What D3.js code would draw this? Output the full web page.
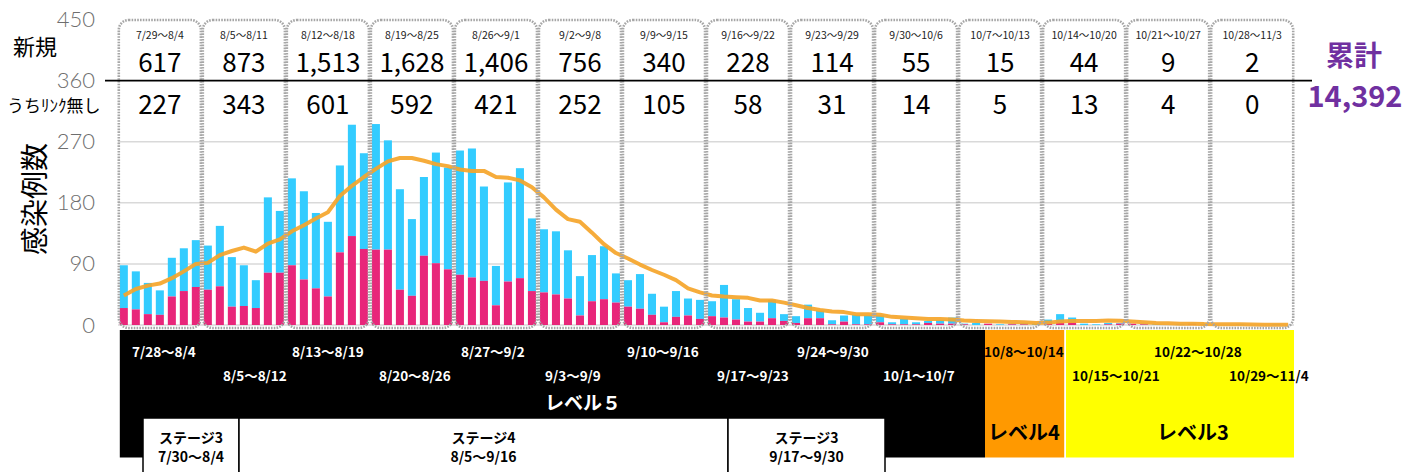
<!DOCTYPE html>
<html><head><meta charset="utf-8">
<script src="https://cdn.jsdelivr.net/npm/d3@7"></script>
<style>
html,body{margin:0;padding:0;background:#fff;}
svg{display:block;font-family:"Noto Sans CJK JP","Noto Sans",sans-serif;}
</style></head>
<body><svg id="c" width="1406" height="472"></svg>
<script>
// ---------- DATA ----------
const startDate = "2020-07-29";
const dayCount = 98;
// daily new cases (total)
const dailyNew = [
  88,79,62,51,99,113,125,
  117,146,100,88,66,188,168,
  216,197,165,152,235,295,253,
  296,272,200,156,218,254,232,
  257,260,204,87,210,231,157,
  141,138,110,72,103,116,76,
  66,75,46,27,50,39,37,
  35,59,38,25,18,37,16,
  13,30,21,7,14,15,14,
  14,4,9,4,6,7,11,
  2,3,2,1,2,3,2,
  8,16,11,2,1,3,3,
  2,2,1,0,1,2,1,
  0,0,1,0,0,1,0
];
// daily cases without known link
const dailyUnlinked = [
  25,23,16,15,42,50,56,
  52,57,27,28,25,77,77,
  88,67,54,42,107,131,112,
  111,111,52,43,102,91,82,
  74,70,65,29,64,69,50,
  48,45,39,14,35,38,33,
  27,24,15,4,12,14,9,
  13,11,8,5,5,10,6,
  3,10,10,1,5,1,1,
  4,1,1,1,3,2,2,
  1,0,2,0,1,1,0,
  2,4,4,0,0,1,2,
  2,1,0,0,0,1,0,
  0,0,0,0,0,0,0
];
// 7-day average line
const weeklyAvg = [
  43.5,53,58,61,69,79,90,
  91.5,103,109,114,108,120,126,
  138,147,157,166,190,205,218,
  230,241,246,246,242,237,234,
  229,227,227,218,217,213,203,
  188,170,156,152,136,119,106,
  98,89,81,74,66,54,48,
  43.5,42,41,40,36,36,33,
  29,25,22,20,19,16,16,
  15,12,11,10,9,9,8,
  6.5,6,5.5,5,4.5,4,3,
  3.5,5,6,6,6,6.5,6.3,
  5,4,3,2.5,2,2,1.3,
  1.2,1,1,0.8,0.5,0.4,0.3
];
const weekLabels = ["7/29～8/4","8/5～8/11","8/12～8/18","8/19～8/25","8/26～9/1","9/2～9/8","9/9～9/15","9/16～9/22","9/23～9/29","9/30～10/6","10/7～10/13","10/14～10/20","10/21～10/27","10/28～11/3"];
const weekNew = ["617","873","1,513","1,628","1,406","756","340","228","114","55","15","44","9","2"];
const weekUnlinked = ["227","343","601","592","421","252","105","58","31","14","5","13","4","0"];
const yTicks = [0,90,180,270,360,450];
const cumulativeLabel = "累計";
const cumulativeValue = "14,392";
const levelPeriodLabels = ["7/28～8/4","8/5～8/12","8/13～8/19","8/20～8/26","8/27～9/2","9/3～9/9","9/10～9/16","9/17～9/23","9/24～9/30","10/1～10/7","10/8～10/14","10/15～10/21","10/22～10/28","10/29～11/4"];
const levelNames = ["レベル５","レベル4","レベル3"];
const stageNames = ["ステージ3","ステージ4","ステージ3"];
const stageDates = ["7/30～8/4","8/5～9/16","9/17～9/30"];

// ---------- LAYOUT ----------
const svg = d3.select("#c");
const X0 = 118, X1 = 1294, Y0 = 325, Ytop = 19.5;
const days = d3.timeDay.range(new Date(startDate+"T00:00:00"), d3.timeDay.offset(new Date(startDate+"T00:00:00"), dayCount));
const idx = d3.range(dayCount);
const x = d3.scaleBand().domain(idx).range([X0, X1]).paddingInner(0.33).paddingOuter(0.15);
const y = d3.scaleLinear().domain([0,450]).range([Y0, Ytop]);
const step = (X1 - X0) / dayCount;
const xf = d => X0 + step * d; // fractional day position

// gridlines
svg.append("g").selectAll("line").data([0,90,180,270]).join("line")
  .attr("x1", X0).attr("x2", X1)
  .attr("y1", d => y(d)).attr("y2", d => y(d))
  .attr("stroke", "#d9d9d9").attr("stroke-width", 1.5);

// y axis labels
const yAxis = d3.axisLeft(y).tickValues(yTicks).tickSize(0).tickPadding(23);
const ga = svg.append("g").attr("transform", `translate(${X0},0)`).call(yAxis);
ga.select(".domain").remove();
ga.selectAll("text").attr("font-size", 22).attr("fill", "#6e6e6e")
  .attr("font-family", "Lato, 'Noto Sans', sans-serif").attr("font-weight", 300);

// bars (stacked)
const bars = svg.append("g");
bars.selectAll("rect.l").data(idx).join("rect").attr("class","l")
  .attr("x", i => x(i)).attr("width", x.bandwidth())
  .attr("y", i => y(dailyNew[i])).attr("height", i => y(dailyUnlinked[i]) - y(dailyNew[i]))
  .attr("fill", "#33ccff");
bars.selectAll("rect.u").data(idx).join("rect").attr("class","u")
  .attr("x", i => x(i)).attr("width", x.bandwidth())
  .attr("y", i => y(dailyUnlinked[i])).attr("height", i => Y0 - y(dailyUnlinked[i]))
  .attr("fill", "#e8267a");

// 7-day average line
const line = d3.line().x((d,i) => x(i) + x.bandwidth()/2).y(d => y(d)).curve(d3.curveLinear);
svg.append("path").datum(weeklyAvg).attr("d", line)
  .attr("fill", "none").attr("stroke", "#f5a52a").attr("stroke-width", 4)
  .attr("stroke-linejoin", "round").attr("opacity", 0.92);

// level bands
const bandTop = 330, bandBot = 457.5;
const bandG = svg.append("g");
bandG.append("rect").attr("x", xf(0.15)).attr("y", bandTop).attr("width", xf(72.25)-xf(0.15)).attr("height", bandBot-bandTop).attr("fill", "#000");
bandG.append("rect").attr("x", xf(72.25)).attr("y", bandTop).attr("width", xf(78.85)-xf(72.25)).attr("height", bandBot-bandTop).attr("fill", "#ff9900");
bandG.append("rect").attr("x", xf(79.0)).attr("y", bandTop).attr("width", xf(98)-xf(79.0)).attr("height", bandBot-bandTop).attr("fill", "#ffff00");

// weekly dotted boxes
const boxG = svg.append("g");
weekLabels.forEach((lab, w) => {
  const left = x(7*w) - 1, right = x(7*w+6) + x.bandwidth() + 1;
  boxG.append("rect").attr("x", left).attr("y", 20).attr("width", right-left).attr("height", 308)
    .attr("rx", 10).attr("ry", 10).attr("fill", "none")
    .attr("stroke", "#a6a6a6").attr("stroke-width", 2.6).attr("stroke-dasharray", "1.6,1.2");
  const cx = (left+right)/2;
  boxG.append("text").attr("x", cx).attr("y", 39).attr("text-anchor","middle")
    .attr("font-size", 10.5).attr("fill", "#222").text(lab);
  boxG.append("text").attr("x", cx).attr("y", 72).attr("text-anchor","middle")
    .attr("font-size", 26).attr("fill", "#000").text(weekNew[w]);
  boxG.append("text").attr("x", cx).attr("y", 114).attr("text-anchor","middle")
    .attr("font-size", 26).attr("fill", "#000").text(weekUnlinked[w]);
});
// black separator
svg.append("line").attr("x1", 105).attr("x2", 1312).attr("y1", y(360)).attr("y2", y(360))
  .attr("stroke", "#000").attr("stroke-width", 1.6);

// left labels
svg.append("text").attr("x", 13).attr("y", 55).attr("font-size", 22).attr("fill","#000").text("新規");
svg.append("text").attr("x", 7).attr("y", 112).attr("font-size", 17).attr("fill","#000").text("うちﾘﾝｸ無し");
svg.append("text").attr("transform", "translate(33,199) rotate(-90)").attr("text-anchor","middle")
  .attr("dominant-baseline","central").attr("font-size", 28).attr("fill","#000").text("感染例数");

// cumulative
svg.append("text").attr("x", 1354).attr("y", 66).attr("text-anchor","middle").attr("font-size", 28)
  .attr("font-weight", 700).attr("fill", "#7030a0").text(cumulativeLabel);
svg.append("text").attr("x", 1355).attr("y", 107).attr("text-anchor","middle").attr("font-size", 29)
  .attr("font-weight", 700).attr("fill", "#7030a0").text(cumulativeValue);

// period labels in level band
const periodPos = [[132,1],[223,2],[292,1],[379,2],[461,1],[545,2],[627,1],[717,2],[797,1],[883,2],[984,1],[1072,2],[1154,1],[1229,2]];
levelPeriodLabels.forEach((t,i) => {
  const [px,row] = periodPos[i];
  svg.append("text").attr("x", px).attr("y", row === 1 ? 357 : 381)
    .attr("font-size", 13.5).attr("font-weight", 700).attr("fill", i < 10 ? "#fff" : "#000").text(t);
});
svg.append("text").attr("x", 545).attr("y", 410).attr("font-size", 19).attr("font-weight", 700).attr("fill","#fff").text(levelNames[0]);
svg.append("text").attr("x", 988).attr("y", 440).attr("font-size", 20).attr("font-weight", 700).attr("fill","#000").text(levelNames[1]);
svg.append("text").attr("x", 1157).attr("y", 440).attr("font-size", 20).attr("font-weight", 700).attr("fill","#000").text(levelNames[2]);

// stage boxes
const stageBox = [[143,239],[239,728],[728,885]];
stageBox.forEach(([a,b],i) => {
  svg.append("rect").attr("x", a).attr("y", 418).attr("width", b-a).attr("height", 70)
    .attr("fill", "#fff").attr("stroke", "#000").attr("stroke-width", 1.5);
  const cx = (a+b)/2;
  svg.append("text").attr("x", cx).attr("y", 443).attr("text-anchor","middle").attr("font-size", 14)
    .attr("font-weight", 700).attr("fill","#000").text(stageNames[i]);
  svg.append("text").attr("x", cx).attr("y", 462).attr("text-anchor","middle").attr("font-size", 14)
    .attr("font-weight", 700).attr("fill","#000").text(stageDates[i]);
});
</script></body></html>
